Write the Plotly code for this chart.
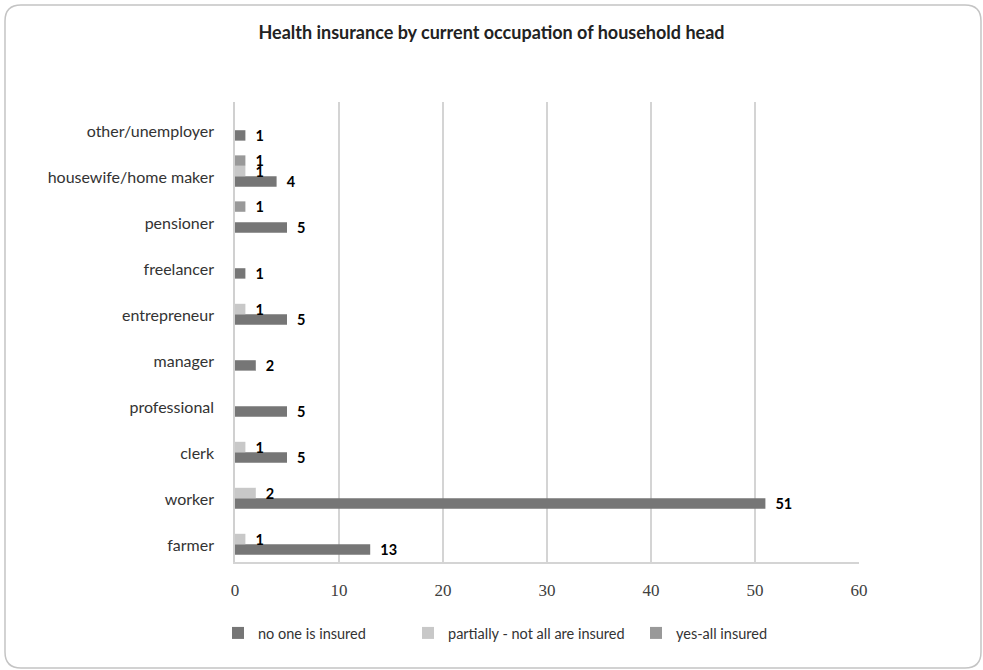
import plotly.graph_objects as go

categories = ["farmer", "worker", "clerk", "professional", "manager",
              "entrepreneur", "freelancer", "pensioner",
              "housewife/home maker", "other/unemployer"]
no_one = [13, 51, 5, 5, 2, 5, 1, 5, 4, 1]
partially = [1, 2, 1, None, None, 1, None, None, 1, None]
yes_all = [None, None, None, None, None, None, None, 1, 1, None]
series_names = ["no one is insured", "partially - not all are insured", "yes-all insured"]
x_ticks = [0, 10, 20, 30, 40, 50, 60]

W, H = 983, 670
L, R, T, B = 235, 859, 102, 562
FONT = "Lato"

def px2paper(px, py):
    return (px - L) / (R - L), (B - py) / (B - T)

fig = go.Figure()
colors = ["#767676", "#c8c8c8", "#999999"]
legends = ["legend", "legend2", "legend3"]
for name, vals, col, lg in zip(series_names, [no_one, partially, yes_all], colors, legends):
    fig.add_trace(go.Bar(
        y=categories, x=vals, name=name, orientation="h",
        marker=dict(color=col, line=dict(width=0)),
        text=[f"{v}" if v is not None else "" for v in vals],
        texttemplate="  %{text}",
        textposition="outside", constraintext="none", cliponaxis=False,
        textfont=dict(family=FONT, size=14.5, color="#000000", weight="bold"),
        legend=lg, showlegend=True,
    ))

# rounded outer border
x0, y0, x1, y1, r = 5, 5, 981, 668, 16
def P(px, py):
    a, b = px2paper(px, py)
    return f"{a:.5f},{b:.5f}"
path = (f"M {P(x0 + r, y0)} L {P(x1 - r, y0)} Q {P(x1, y0)} {P(x1, y0 + r)} "
        f"L {P(x1, y1 - r)} Q {P(x1, y1)} {P(x1 - r, y1)} "
        f"L {P(x0 + r, y1)} Q {P(x0, y1)} {P(x0, y1 - r)} "
        f"L {P(x0, y0 + r)} Q {P(x0, y0)} {P(x0 + r, y0)} Z")

leg_common = dict(orientation="h", yanchor="middle", xanchor="left",
                  font=dict(family=FONT, size=14.5, color="#333333"),
                  bgcolor="rgba(0,0,0,0)", itemwidth=30, visible=True)
lx1, ly = px2paper(218, 633)
lx2, _ = px2paper(408, 633)
lx3, _ = px2paper(636, 633)

fig.update_layout(
    width=W, height=H, showlegend=True,
    margin=dict(l=L, r=W - R, t=T, b=H - B, pad=0),
    paper_bgcolor="white", plot_bgcolor="white",
    barmode="group", bargap=0.32, bargroupgap=0,
    title=dict(text="<b>Health insurance by current occupation of household head</b>",
               x=0.5, xref="container", xanchor="center", y=1 - 33 / H, yanchor="middle",
               font=dict(family=FONT, size=18, color="#222222")),
    xaxis=dict(range=[0, 60], tickvals=x_ticks, showgrid=True, gridcolor="#d4d4d4",
               gridwidth=1.5, zeroline=False, showline=True, linecolor="#d4d4d4",
               linewidth=1.5, ticks="", ticklabelstandoff=12,
               tickfont=dict(family="Liberation Serif", size=17, color="#404040")),
    yaxis=dict(categoryorder="array", categoryarray=categories, range=[-0.5, 9.5],
               showgrid=False, showline=True, linecolor="#d0d0d0", linewidth=1.5,
               ticks="", ticklabelstandoff=16, ticklabelshift=6,
               tickfont=dict(family=FONT, size=16, color="#333333")),
    legend=dict(x=lx1, y=ly, **leg_common),
    legend2=dict(x=lx2, y=ly, **leg_common),
    legend3=dict(x=lx3, y=ly, **leg_common),
    shapes=[dict(type="path", path=path, xref="paper", yref="paper",
                 line=dict(color="#c4c4c4", width=1.5), fillcolor="rgba(0,0,0,0)",
                 layer="above")],
)

fig.write_html("out.html", config={"displayModeBar": False},
               post_script="document.body.style.margin='0px';")
